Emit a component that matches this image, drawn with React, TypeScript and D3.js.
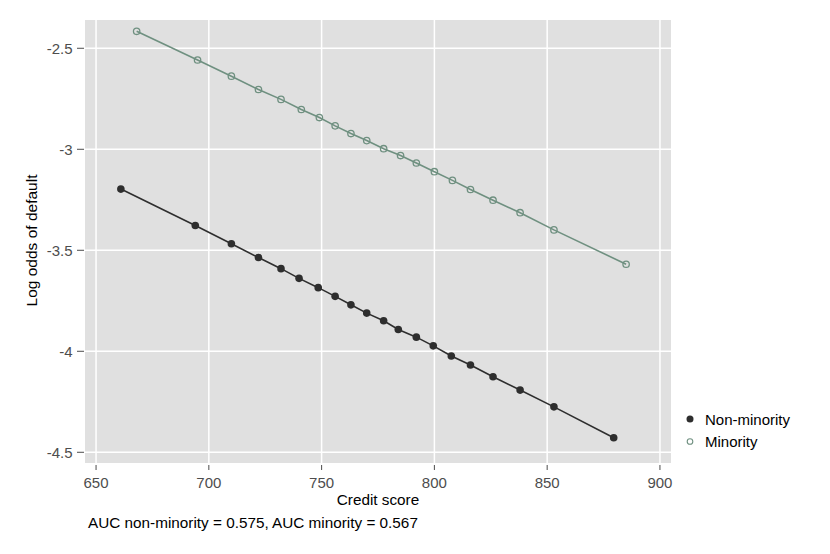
import * as d3 from "d3"

// Credit score at each point and the fitted log odds of default
const nonMinorityScore = [661, 694, 710, 722, 732, 740, 748.5, 756, 763, 770, 777.5, 784, 792, 799.5, 807.5, 816, 826, 838, 853, 879.5]
const nonMinorityLogOdds = [-3.197, -3.377, -3.468, -3.536, -3.591, -3.639, -3.685, -3.728, -3.77, -3.811, -3.849, -3.892, -3.93, -3.973, -4.023, -4.068, -4.126, -4.192, -4.275, -4.428]

const minorityScore = [668, 695, 710, 722, 732, 741, 749, 756, 763, 770, 777.5, 785, 792, 800, 808, 816, 826, 838, 853, 885]
const minorityLogOdds = [-2.416, -2.558, -2.638, -2.704, -2.753, -2.803, -2.843, -2.884, -2.922, -2.957, -2.997, -3.031, -3.068, -3.111, -3.154, -3.199, -3.252, -3.314, -3.399, -3.569]

const xTicks = [650, 700, 750, 800, 850, 900]
const yTicks = [-2.5, -3, -3.5, -4, -4.5]
const legendLabels = ["Non-minority", "Minority"]
const caption = "AUC non-minority = 0.575, AUC minority = 0.567"

const darkColor = "#2e2e2e"
const greenColor = "#6f9080"
const font = "'Liberation Sans', Arial, sans-serif"

export default function App() {
  const width = 830
  const height = 554
  const panel = { left: 85, top: 20, right: 671, bottom: 463 }

  const x = d3.scaleLinear().domain([645.1, 904.9]).range([panel.left, panel.right])
  const y = d3.scaleLinear().domain([-2.36, -4.553]).range([panel.top, panel.bottom])

  const nonMinority = nonMinorityScore.map((s, i) => ({ s, v: nonMinorityLogOdds[i] }))
  const minority = minorityScore.map((s, i) => ({ s, v: minorityLogOdds[i] }))

  const line = d3
    .line<{ s: number; v: number }>()
    .x((d) => x(d.s))
    .y((d) => y(d.v))

  return (
    <svg
      width={width}
      height={height}
      style={{ position: "absolute", left: 0, top: 0, background: "#fff", fontFamily: font }}
    >
      {/* panel */}
      <rect
        x={panel.left}
        y={panel.top}
        width={panel.right - panel.left}
        height={panel.bottom - panel.top}
        fill="#e0e0e0"
      />
      {xTicks.map((t) => (
        <line key={"gx" + t} x1={x(t)} x2={x(t)} y1={panel.top} y2={panel.bottom} stroke="#fff" strokeWidth={1.5} />
      ))}
      {yTicks.map((t) => (
        <line key={"gy" + t} x1={panel.left} x2={panel.right} y1={y(t)} y2={y(t)} stroke="#fff" strokeWidth={1.5} />
      ))}

      {/* x axis */}
      {xTicks.map((t) => (
        <g key={"xt" + t}>
          <line x1={x(t)} x2={x(t)} y1={panel.bottom + 2} y2={panel.bottom + 7} stroke="#4d4d4d" strokeWidth={1} />
          <text x={x(t)} y={488} textAnchor="middle" fontSize={15} fill="#4d4d4d">
            {t}
          </text>
        </g>
      ))}
      <text x={(panel.left + panel.right) / 2} y={504.5} textAnchor="middle" fontSize={15.3} fill="#000">
        Credit score
      </text>

      {/* y axis */}
      {yTicks.map((t) => (
        <g key={"yt" + t}>
          <line x1={panel.left - 8} x2={panel.left - 1} y1={y(t)} y2={y(t)} stroke="#4d4d4d" strokeWidth={1} />
          <text x={panel.left - 12.5} y={y(t) + 5.3} textAnchor="end" fontSize={15} fill="#4d4d4d">
            {String(t)}
          </text>
        </g>
      ))}
      <text
        transform={`translate(36.5,${(panel.top + panel.bottom) / 2 - 1}) rotate(-90)`}
        textAnchor="middle"
        fontSize={15.5}
        fill="#000"
      >
        Log odds of default
      </text>

      {/* series */}
      <path d={line(minority) ?? ""} fill="none" stroke={greenColor} strokeWidth={1.6} />
      {minority.map((d, i) => (
        <circle key={"m" + i} cx={x(d.s)} cy={y(d.v)} r={3.2} fill="none" stroke={greenColor} strokeWidth={1.3} />
      ))}
      <path d={line(nonMinority) ?? ""} fill="none" stroke={darkColor} strokeWidth={1.6} />
      {nonMinority.map((d, i) => (
        <circle key={"n" + i} cx={x(d.s)} cy={y(d.v)} r={3.8} fill={darkColor} />
      ))}

      {/* legend */}
      <circle cx={690} cy={419} r={3.5} fill={darkColor} />
      <text x={705} y={425} fontSize={15} fill="#000">
        {legendLabels[0]}
      </text>
      <circle cx={690} cy={441.5} r={2.8} fill="none" stroke={greenColor} strokeWidth={1.1} />
      <text x={705} y={447} fontSize={15} fill="#000">
        {legendLabels[1]}
      </text>

      {/* caption */}
      <text x={88} y={528} fontSize={15.3} fill="#000">
        {caption}
      </text>
    </svg>
  )
}
